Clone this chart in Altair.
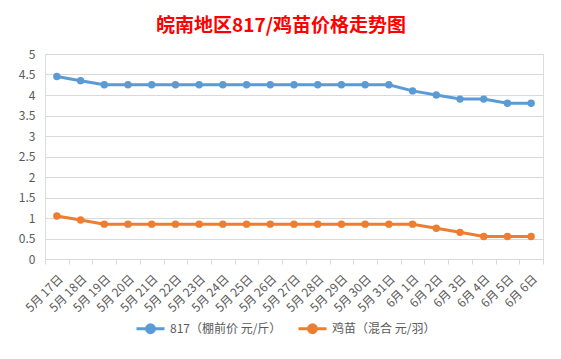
import altair as alt
import pandas as pd

dates = ["5月17日", "5月18日", "5月19日", "5月20日", "5月21日", "5月22日", "5月23日",
         "5月24日", "5月25日", "5月26日", "5月27日", "5月28日", "5月29日", "5月30日",
         "5月31日", "6月1日", "6月2日", "6月3日", "6月4日", "6月5日", "6月6日"]
price_817 = [4.45, 4.35, 4.25, 4.25, 4.25, 4.25, 4.25, 4.25, 4.25, 4.25, 4.25, 4.25,
             4.25, 4.25, 4.25, 4.1, 4.0, 3.9, 3.9, 3.8, 3.8]
price_chick = [1.05, 0.95, 0.85, 0.85, 0.85, 0.85, 0.85, 0.85, 0.85, 0.85, 0.85, 0.85,
               0.85, 0.85, 0.85, 0.85, 0.75, 0.65, 0.55, 0.55, 0.55]
series_names = ["817（棚前价 元/斤）", "鸡苗（混合 元/羽）"]
series_colors = ["#5B9BD5", "#ED7D31"]
y_ticks = [0, 0.5, 1, 1.5, 2, 2.5, 3, 3.5, 4, 4.5, 5]

rows = []
for d, v in zip(dates, price_817):
    rows.append({"date": d, "value": v, "series": series_names[0]})
for d, v in zip(dates, price_chick):
    rows.append({"date": d, "value": v, "series": series_names[1]})
df = pd.DataFrame(rows)

FONT = "Noto Sans CJK SC"
sym_path = ("M-1,0L1,0M-0.28,0a0.28,0.28 0 1,0 0.56,0"
            "a0.28,0.28 0 1,0 -0.56,0Z")

chart = alt.Chart(df).mark_line(
    strokeWidth=3,
    point=alt.OverlayMarkDef(filled=True, size=55, opacity=1),
).encode(
    x=alt.X("date:N", sort=dates, bandPosition=0.5,
            scale=alt.Scale(type="band", paddingInner=0, paddingOuter=0),
            axis=alt.Axis(title=None, labelAngle=-45, labelFontSize=12,
                          labelColor="#595959", labelFont=FONT,
                          labelExpr="replace(datum.label, '月', '月 ')",
                          domainColor="#d9d9d9", tickColor="#d9d9d9",
                          tickSize=5, tickBand="extent", grid=False,
                          labelPadding=9, labelOverlap=False)),
    y=alt.Y("value:Q", scale=alt.Scale(domain=[0, 5], nice=False),
            axis=alt.Axis(title=None, values=y_ticks, format="~g",
                          labelFontSize=12, labelColor="#595959", labelFont=FONT,
                          domain=False, ticks=False, gridColor="#d9d9d9",
                          labelPadding=10)),
    color=alt.Color("series:N", sort=series_names,
                    scale=alt.Scale(domain=series_names, range=series_colors),
                    legend=alt.Legend(title=None, orient="none", direction="horizontal",
                                      legendX=90, legendY=259,
                                      symbolType=sym_path, symbolSize=784,
                                      symbolStrokeWidth=3, labelFontSize=12,
                                      labelColor="#595959", labelFont=FONT,
                                      columnPadding=10)),
).properties(
    width=498,
    height=205,
    title=alt.TitleParams("皖南地区817/鸡苗价格走势图", fontSize=19, color="#FF0000",
                          fontWeight="bold", font=FONT, anchor="middle",
                          offset=12, dx=-13),
    autosize=alt.AutoSizeParams(type="none"),
    padding={"left": 37, "top": 46, "right": 10, "bottom": 92},
).configure_view(stroke=None).configure(background="white")

chart.save("out.html", embed_options={"renderer": "svg", "actions": False})
